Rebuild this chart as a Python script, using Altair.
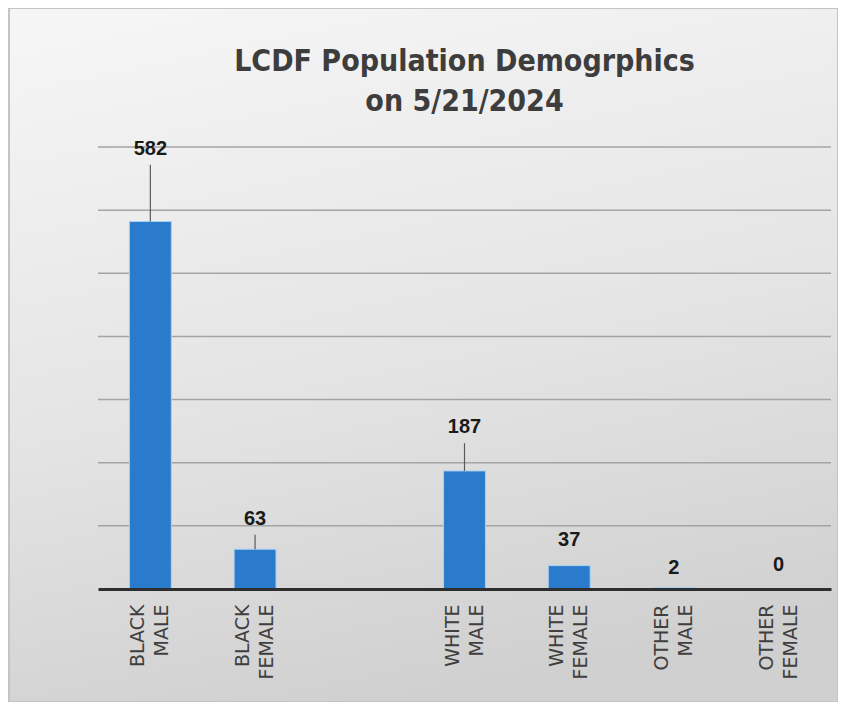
import altair as alt
import pandas as pd

categories = ["BLACK|MALE", "BLACK|FEMALE", " ", "WHITE|MALE", "WHITE|FEMALE", "OTHER|MALE", "OTHER|FEMALE"]
counts = [582, 63, None, 187, 37, 2, 0]
label_lift = [90, 23, None, 44, 15, 6, 13]
has_leader = [True, True, False, True, False, False, False]
grid_values = [100, 200, 300, 400, 500, 600, 700]

rows = []
for c, v, lift, lead in zip(categories, counts, label_lift, has_leader):
    if v is None:
        continue
    rows.append({"cat": c, "value": v, "label_y": v + lift, "leader": lead, "txt": str(v)})
df = pd.DataFrame(rows)
grid_df = pd.DataFrame({"g": grid_values})

x_enc = alt.X(
    "cat:N",
    sort=categories,
    scale=alt.Scale(domain=categories, paddingInner=0.6, paddingOuter=0.3),
    axis=alt.Axis(
        title=None,
        labelAngle=-90,
        labelAlign="right",
        labelBaseline="middle",
        labelExpr="split(datum.label, '|')",
        labelFont="DejaVu Sans",
        labelFontSize=19,
        labelColor="#3f3f3f",
        labelLineHeight=24,
        labelPadding=15,
        labelOffset=-12,
        ticks=False,
        domain=True,
        domainColor="#2e2e2e",
        domainWidth=3,
        labelOverlap=False,
        zindex=1,
    ),
)
y_scale = alt.Scale(domain=[0, 700], nice=False, zero=True)

bg = alt.Chart(alt.Data(values=[{"a": 1}])).mark_rect(
    fill=alt.LinearGradient(
        gradient="linear",
        stops=[
            alt.GradientStop(color="#f5f5f5", offset=0),
            alt.GradientStop(color="#e4e4e4", offset=0.55),
            alt.GradientStop(color="#d0d0d0", offset=1),
        ],
        x1=0.2, y1=0, x2=0.45, y2=1,
    ),
    stroke="#c4c4c4",
    strokeWidth=2,
).encode(
    x=alt.value(-89), x2=alt.value(740), y=alt.value(-139), y2=alt.value(555)
)

grid = alt.Chart(grid_df).mark_rule(color="#a4a4a4", strokeWidth=1.5).encode(
    y=alt.Y("g:Q", scale=y_scale, axis=None),
)

base = alt.Chart(df)

bars = base.mark_bar(color="#2a7bcb", stroke="#a8d0f2", strokeWidth=1).encode(
    x=x_enc,
    y=alt.Y("value:Q", scale=y_scale, axis=None),
)

leaders = base.transform_filter("datum.leader").mark_rule(color="#5a5a5a", strokeWidth=1.2).encode(
    x=alt.X("cat:N", sort=categories),
    y="value:Q",
    y2="label_y:Q",
)

labels = base.mark_text(
    font="Liberation Sans",
    fontWeight="bold",
    fontSize=20,
    color="#1a1a1a",
    baseline="alphabetic",
    dy=-10,
).encode(
    x=alt.X("cat:N", sort=categories),
    y="label_y:Q",
    text="txt:N",
)

chart = alt.layer(bg, grid, bars, leaders, labels).properties(
    width=733,
    height=442,
    autosize=alt.AutoSizeParams(type="none"),
    padding={"left": 90, "top": 139, "right": 7, "bottom": 113},
    background="#ffffff",
    title=alt.TitleParams(
        text=["LCDF Population Demogrphics", "on 5/21/2024"],
        font="DejaVu Sans Condensed",
        fontWeight="bold",
        fontSize=30,
        color="#3d3d3d",
        lineHeight=40,
        anchor="middle",
        offset=-110,
    ),
).configure_view(stroke=None)

chart.save("out.html", embed_options={"renderer": "svg", "actions": False})
